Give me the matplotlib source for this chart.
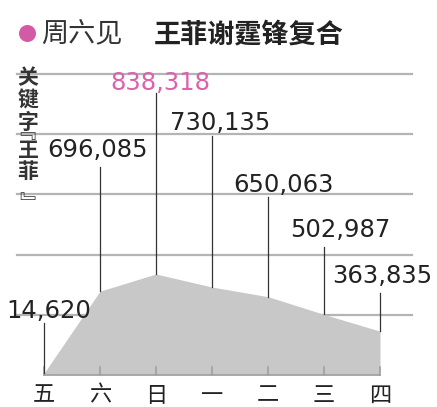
import matplotlib
matplotlib.use("Agg")
import matplotlib.pyplot as plt

plt.rcParams['font.family'] = ['Noto Sans CJK SC', 'DejaVu Sans']

# 数据
days = ['五', '六', '日', '一', '二', '三', '四']
counts = [14620, 696085, 838318, 730135, 650063, 502987, 363835]
labels = ['14,620', '696,085', '838,318', '730,135', '650,063', '502,987', '363,835']
grid_vals = [500000, 1000000, 1500000, 2000000, 2500000]
title_left = '周六见'
title_right = '王菲谢霆锋复合'
ylabel_chars = ['关', '键', '字', '王', '菲']
bracket_open, bracket_close = '﹃', '﹄'

W, H = 437, 407
PX = 8300.0          # 每像素对应的数值
BASE = 375           # 基线像素位置(从上往下)
X0, DX = 44, 56      # 第一天的像素位置 / 间距

def yv(py):
    # 像素 -> 数值
    return (BASE - py) * PX

fig = plt.figure(figsize=(W / 100, H / 100), dpi=100)
ax = fig.add_axes([0, 0, 1, 1])
ax.set_xlim(-X0 / DX, (W - X0) / DX)
ax.set_ylim(yv(H), yv(0))
ax.axis('off')

x = list(range(len(days)))

# 网格线
for g in grid_vals:
    ax.plot([(17 - X0) / DX, (412 - X0) / DX], [g, g], color='#b4b4b4', lw=1.6, zorder=1)

# 面积
ax.fill_between(x, 0, counts, color='#c8c8c8', lw=0, zorder=2)
ax.plot([0, 6], [0, 0], color='#a0a0a0', lw=1.2, zorder=3)
for xi in x:
    ax.plot([xi, xi], [0, yv(367)], color='#a0a0a0', lw=1.2, zorder=3)

# 引线和数字
line_top = [323, 167, 93, 136, 197, 247, 293]
label_base = [318, 157, 90, 130, 192, 237, 283]
label_dx = [0.09, -0.05, 0.07, 0.14, 0.27, 0.29, 0.04]
for i, xi in enumerate(x):
    ax.plot([xi, xi], [counts[i], yv(line_top[i])], color='#333333', lw=0.9, zorder=4)
    col = '#dd5fae' if i == 2 else '#222222'
    ax.text(xi + label_dx[i], yv(label_base[i]), labels[i], ha='center', va='baseline',
            fontsize=17.5, color=col, family='DejaVu Sans', zorder=5)

# x轴文字
for xi, d in zip(x, days):
    ax.text(xi, yv(395), d, ha='center', va='center', fontsize=16, color='#222222',
            fontweight='medium')

# 纵向标签(逐字竖排)
ys = [78, 100, 122, 150, 171]
for ch, py in zip(ylabel_chars, ys):
    fig.text(28 / W, 1 - py / H, ch, ha='center', va='center', fontsize=15,
             color='#333333', fontweight='bold')
# 竖排括号(字形在字框里偏移, 所以锚点各自调整)
fig.text(24 / W, 1 - 131 / H, bracket_open, ha='center', va='center', fontsize=16, color='#333333')
fig.text(30 / W, 1 - 204 / H, bracket_close, ha='center', va='center', fontsize=16, color='#333333')

# 标题
ax.scatter([(27 - X0) / DX], [yv(33)], s=150, color='#d45aa5', lw=0, zorder=5)
fig.text(41 / W, 1 - 34 / H, title_left, ha='left', va='center', fontsize=19.5, color='#333333')
fig.text(154 / W, 1 - 34 / H, title_right, ha='left', va='center', fontsize=19.5,
         color='#222222', fontweight='bold')

fig.savefig('out.png', dpi=100)
